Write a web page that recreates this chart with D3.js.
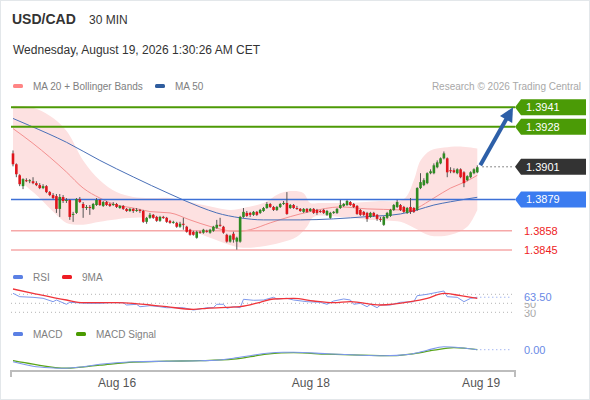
<!DOCTYPE html>
<html>
<head>
<meta charset="utf-8">
<script src="https://cdn.jsdelivr.net/npm/d3@7"></script>
<style>
  body { margin: 0; background: #fff; }
  text { font-family: "Liberation Sans", Arial, sans-serif; }
</style>
</head>
<body>
<svg id="chart" width="590" height="400"></svg>
<script>
// USD/CAD 30 min candles
var opens = [
  1.39100,1.39027,1.38953,1.38880,1.38920,1.38913,1.38913,1.38900,1.38887,1.38867,
  1.38880,1.38840,1.38820,1.38813,1.38727,1.38807,1.38780,1.38787,1.38687,1.38700,
  1.38793,1.38760,1.38733,1.38740,1.38727,1.38753,1.38787,1.38747,1.38773,1.38760,
  1.38753,1.38760,1.38733,1.38747,1.38727,1.38713,1.38727,1.38713,1.38720,1.38713,
  1.38640,1.38667,1.38687,1.38673,1.38647,1.38673,1.38667,1.38647,1.38633,1.38633,
  1.38607,1.38627,1.38607,1.38587,1.38573,1.38533,1.38573,1.38567,1.38580,1.38567,
  1.38580,1.38600,1.38620,1.38607,1.38553,1.38507,1.38560,1.38507,1.38507,1.38673,
  1.38700,1.38700,1.38687,1.38707,1.38700,1.38713,1.38733,1.38760,1.38740,1.38720,
  1.38740,1.38760,1.38767,1.38733,1.38753,1.38733,1.38727,1.38707,1.38727,1.38713,
  1.38727,1.38720,1.38713,1.38720,1.38687,1.38667,1.38700,1.38700,1.38733,1.38747,
  1.38753,1.38773,1.38760,1.38747,1.38720,1.38707,1.38700,1.38673,1.38700,1.38687,
  1.38660,1.38620,1.38667,1.38680,1.38720,1.38740,1.38753,1.38740,1.38700,1.38740,
  1.38733,1.38720,1.38867,1.38887,1.38900,1.38967,1.38967,1.39007,1.39033,1.39067,
  1.39067,1.38987,1.38987,1.38967,1.38993,1.38973,1.38920,1.38940,1.38967,1.38973
];
var highs = [
  1.39120,1.39033,1.38960,1.38933,1.38933,1.38927,1.38940,1.38913,1.38900,1.38893,
  1.38887,1.38847,1.38833,1.38827,1.38827,1.38820,1.38800,1.38793,1.38707,1.38800,
  1.38807,1.38773,1.38753,1.38753,1.38767,1.38800,1.38793,1.38780,1.38780,1.38767,
  1.38773,1.38767,1.38753,1.38753,1.38733,1.38733,1.38733,1.38733,1.38727,1.38720,
  1.38673,1.38700,1.38693,1.38680,1.38680,1.38680,1.38673,1.38653,1.38647,1.38640,
  1.38640,1.38667,1.38613,1.38593,1.38580,1.38580,1.38580,1.38593,1.38587,1.38593,
  1.38613,1.38653,1.38667,1.38613,1.38560,1.38553,1.38573,1.38540,1.38680,1.38733,
  1.38713,1.38707,1.38713,1.38713,1.38727,1.38740,1.38773,1.38767,1.38747,1.38747,
  1.38767,1.38780,1.38840,1.38760,1.38760,1.38747,1.38733,1.38733,1.38733,1.38733,
  1.38733,1.38727,1.38720,1.38727,1.38720,1.38707,1.38713,1.38733,1.38787,1.38767,
  1.38787,1.38780,1.38767,1.38753,1.38727,1.38713,1.38707,1.38707,1.38707,1.38693,
  1.38673,1.38680,1.38707,1.38727,1.38760,1.38787,1.38760,1.38747,1.38740,1.38800,
  1.38740,1.38873,1.38967,1.38933,1.38973,1.38993,1.39033,1.39053,1.39073,1.39113,
  1.39073,1.39007,1.39000,1.39000,1.39000,1.38980,1.38953,1.38980,1.39000,1.39020
];
var lows = [
  1.39013,1.38940,1.38880,1.38860,1.38907,1.38900,1.38893,1.38880,1.38860,1.38860,
  1.38833,1.38813,1.38793,1.38700,1.38673,1.38767,1.38767,1.38653,1.38640,1.38693,
  1.38767,1.38667,1.38720,1.38687,1.38720,1.38747,1.38747,1.38740,1.38747,1.38740,
  1.38747,1.38733,1.38727,1.38720,1.38707,1.38707,1.38700,1.38707,1.38700,1.38633,
  1.38627,1.38660,1.38660,1.38640,1.38640,1.38660,1.38633,1.38627,1.38627,1.38600,
  1.38600,1.38587,1.38567,1.38547,1.38547,1.38527,1.38560,1.38560,1.38567,1.38560,
  1.38573,1.38593,1.38607,1.38560,1.38500,1.38500,1.38500,1.38453,1.38500,1.38667,
  1.38673,1.38673,1.38680,1.38680,1.38693,1.38707,1.38727,1.38733,1.38713,1.38713,
  1.38733,1.38753,1.38687,1.38727,1.38727,1.38720,1.38707,1.38700,1.38700,1.38707,
  1.38693,1.38687,1.38700,1.38693,1.38680,1.38660,1.38693,1.38693,1.38727,1.38740,
  1.38747,1.38747,1.38733,1.38687,1.38680,1.38680,1.38640,1.38667,1.38673,1.38647,
  1.38640,1.38613,1.38660,1.38673,1.38713,1.38733,1.38713,1.38700,1.38693,1.38693,
  1.38700,1.38713,1.38860,1.38880,1.38893,1.38960,1.38960,1.39000,1.39027,1.39060,
  1.38940,1.38967,1.38967,1.38960,1.38933,1.38873,1.38913,1.38933,1.38960,1.38967
];
var closes = [
  1.39027,1.38960,1.38893,1.38927,1.38913,1.38920,1.38900,1.38887,1.38867,1.38880,
  1.38840,1.38820,1.38800,1.38727,1.38807,1.38780,1.38787,1.38673,1.38693,1.38793,
  1.38773,1.38733,1.38740,1.38733,1.38760,1.38787,1.38753,1.38773,1.38753,1.38747,
  1.38760,1.38740,1.38747,1.38727,1.38713,1.38727,1.38713,1.38720,1.38713,1.38640,
  1.38667,1.38687,1.38667,1.38647,1.38673,1.38667,1.38640,1.38633,1.38640,1.38607,
  1.38627,1.38620,1.38573,1.38553,1.38553,1.38573,1.38567,1.38587,1.38573,1.38587,
  1.38607,1.38620,1.38613,1.38567,1.38507,1.38547,1.38520,1.38533,1.38673,1.38707,
  1.38680,1.38687,1.38707,1.38687,1.38720,1.38733,1.38760,1.38740,1.38720,1.38740,
  1.38760,1.38767,1.38693,1.38753,1.38733,1.38727,1.38713,1.38727,1.38707,1.38727,
  1.38700,1.38700,1.38707,1.38700,1.38713,1.38700,1.38707,1.38727,1.38753,1.38760,
  1.38780,1.38753,1.38740,1.38693,1.38687,1.38687,1.38660,1.38700,1.38680,1.38660,
  1.38653,1.38673,1.38700,1.38720,1.38753,1.38773,1.38720,1.38707,1.38733,1.38707,
  1.38707,1.38867,1.38907,1.38920,1.38967,1.38980,1.39020,1.39040,1.39067,1.39100,
  1.38973,1.38980,1.38973,1.38993,1.38940,1.38900,1.38947,1.38973,1.38993,1.39007
];

// indicators sampled as [candle index, value]
var ma20 = [[0,1.39267],[6,1.39167],[11,1.39075],[16,1.38975],[21,1.38867],[26,1.38800],[31,1.38753],
  [36,1.38733],[41,1.38709],[47,1.38700],[53,1.38653],[59,1.38609],[67,1.38575],[71,1.38587],[77,1.38633],
  [83,1.38675],[89,1.38709],[98,1.38740],[106,1.38727],[116,1.38720],[119,1.38713],[121,1.38733],
  [126,1.38800],[131,1.38867],[136,1.38915],[139,1.38953]];
var ma50 = [[0,1.39335],[5,1.39287],[16,1.39175],[26,1.39053],[36,1.38942],[47,1.38827],[56,1.38740],
  [61,1.38700],[68,1.38667],[75,1.38653],[86,1.38653],[96,1.38660],[106,1.38675],[116,1.38693],
  [121,1.38720],[126,1.38753],[131,1.38775],[139,1.38805]];
var bbUpper = [[0,1.39420],[6,1.39407],[11,1.39353],[16,1.39253],[21,1.39053],[26,1.38920],[31,1.38840],
  [36,1.38807],[41,1.38800],[47,1.38800],[57,1.38753],[65,1.38720],[69,1.38733],[75,1.38767],[80,1.38833],
  [84,1.38847],[87,1.38833],[89,1.38767],[92,1.38767],[101,1.38767],[110,1.38780],[117,1.38793],
  [120,1.38920],[122,1.39053],[125,1.39120],[129,1.39140],[134,1.39147],[139,1.39133]];
var bbLower = [[0,1.39107],[2,1.38933],[8,1.38800],[13,1.38687],[16,1.38633],[21,1.38620],[26,1.38640],
  [36,1.38667],[47,1.38653],[53,1.38587],[59,1.38533],[63,1.38500],[68,1.38467],[74,1.38473],[80,1.38500],
  [85,1.38540],[88,1.38607],[90,1.38673],[98,1.38673],[107,1.38653],[116,1.38640],[120,1.38600],
  [125,1.38547],[131,1.38553],[136,1.38607],[139,1.38720]];

var rsi = [[0,72.2],[2,64.7],[6,63.3],[9,61.1],[12,53.6],[13,57.3],[16,47.8],[17,52.2],[19,51.3],[22,50],
  [26,50],[29,51.3],[33,51.3],[34,46.2],[37,47.8],[38,42.4],[41,44.7],[44,42.4],[46,40.2],[48,40.2],
  [51,40.2],[54,35.1],[56,37.3],[58,40.2],[60,40.2],[61,47.8],[63,47.8],[64,38.9],[66,42.4],[68,40.2],
  [69,58.9],[72,56.7],[75,57.3],[78,63.3],[79,59.6],[82,61.1],[84,57.3],[88,53.6],[92,52.2],[94,47.8],
  [96,55.1],[99,59.6],[101,57.3],[102,47.8],[104,50],[106,42.4],[107,47.8],[109,40.2],[110,46.2],
  [113,46.2],[116,52.2],[120,53.6],[121,66.9],[124,70],[127,74.4],[129,77.3],[130,64.7],[133,63.3],
  [135,53.6],[137,61.1],[139,63.5]];
var rsiMa = [[0,81.8],[6,72.2],[16,57.3],[21,51.3],[31,51.3],[36,50],[41,46.2],[46,42.4],[54,36.7],
  [58,38.9],[68,42.4],[74,52.2],[78,59.6],[84,61.1],[90,55.1],[96,51.3],[101,53.6],[110,46.2],
  [119,53.6],[124,61.1],[129,72.2],[134,66.9],[139,61.1]];
var rsiGrid = [70, 50, 30];
var rsiTicks = [30, 50];
var rsiLast = 63.50;

var macd = [[0,-0.00024],[6,-0.00033],[11,-0.00036],[16,-0.00037],[21,-0.00034],[26,-0.00029],
  [36,-0.00024],[46,-0.00023],[56,-0.00022],[61,-0.00021],[66,-0.00017],[71,-0.00012],[76,-0.00007],
  [81,-0.00005],[84,-0.00005],[94,-0.00008],[104,-0.00011],[111,-0.00012],[119,-0.00009],
  [124,-0.00001],[129,0.00006],[134,0.00004],[139,0.00000]];
var macdSignal = [[0,-0.00022],[6,-0.00029],[16,-0.00037],[26,-0.00031],[36,-0.00025],[46,-0.00023],
  [56,-0.00022],[66,-0.00019],[76,-0.00009],[84,-0.00006],[94,-0.00009],[104,-0.00011],[114,-0.00012],
  [119,-0.00009],[126,-0.00001],[132,0.00004],[139,0.00000]];

var resistances = [1.3941, 1.3928];
var pivot = 1.3879;
var supports = [1.3858, 1.3845];
var lastPrice = 1.3901;

var tickIdx = [31, 89, 140];
var tickLabels = ["Aug 16", "Aug 18", "Aug 19"];

var svg = d3.select("#chart");

var x = d3.scaleLinear().domain([0, closes.length - 1]).range([13, 477.3]);
var y = d3.scaleLinear().domain([1.3845, 1.3941]).range([250.1, 107.3]);
var yRsi = d3.scaleLinear().domain([30, 70]).range([312.3, 294.3]);
var yMacd = d3.scaleLinear().domain([-0.0004, 0.0001]).range([369.7, 344.7]);

// frame
svg.append("rect").attr("x", 0.5).attr("y", 0.5).attr("width", 589).attr("height", 399)
    .attr("fill", "#fff").attr("stroke", "#e3e7ea");

// header
svg.append("text").attr("x", 12).attr("y", 24).attr("font-size", 14).attr("font-weight", "bold")
    .attr("fill", "#333").text("USD/CAD");
svg.append("text").attr("x", 89).attr("y", 24).attr("font-size", 12).attr("fill", "#333").text("30 MIN");
svg.append("text").attr("x", 13).attr("y", 54).attr("font-size", 12).attr("fill", "#333")
    .text("Wednesday, August 19, 2026 1:30:26 AM CET");

function legend(items, yy) {
  items.forEach(function(it) {
    svg.append("rect").attr("x", it.x).attr("y", yy - 5.5).attr("width", 10).attr("height", 4)
        .attr("rx", 1.5).attr("fill", it.c);
    svg.append("text").attr("x", it.x + 20).attr("y", yy).attr("font-size", 10).attr("fill", "#808080")
        .text(it.t);
  });
}
legend([{x: 13, c: "#ff8585", t: "MA 20 + Bollinger Bands"}, {x: 155, c: "#2f5d9e", t: "MA 50"}], 89.5);
svg.append("text").attr("x", 581).attr("y", 89.5).attr("font-size", 10).attr("fill", "#a8a8a8")
    .attr("text-anchor", "end").text("Research \u00a9 2026 Trading Central");

// bollinger band: upper edge left to right, lower edge back
var bandEdge = d3.line().x(function(d) { return x(d[0]); }).y(function(d) { return y(d[1]); })
    .curve(d3.curveCatmullRom.alpha(0.5));
var bandD = bandEdge(bbUpper) + "L" + bandEdge(bbLower.slice().reverse()).slice(1) + "Z";
svg.append("path").attr("d", bandD).attr("fill", "#fde1e1").attr("stroke", "none");

var smooth = d3.line().x(function(d) { return x(d[0]); }).y(function(d) { return y(d[1]); })
    .curve(d3.curveMonotoneX);
svg.append("path").attr("d", smooth(ma20)).attr("fill", "none").attr("stroke", "#f49090").attr("stroke-width", 1);
svg.append("path").attr("d", smooth(ma50)).attr("fill", "none").attr("stroke", "#4a70b8").attr("stroke-width", 1);

// level lines
resistances.forEach(function(v) {
  svg.append("line").attr("x1", 11).attr("x2", 515).attr("y1", y(v)).attr("y2", y(v))
      .attr("stroke", "#4d9a06").attr("stroke-width", 2);
});
svg.append("line").attr("x1", 11).attr("x2", 515).attr("y1", y(pivot)).attr("y2", y(pivot))
    .attr("stroke", "#3d70d6").attr("stroke-width", 1.5);
supports.forEach(function(v) {
  svg.append("line").attr("x1", 11).attr("x2", 512).attr("y1", y(v)).attr("y2", y(v))
      .attr("stroke", "#f6a8a8").attr("stroke-width", 1.5);
});
var lastX = x(closes.length - 1);
svg.append("line").attr("x1", lastX + 5).attr("x2", 512).attr("y1", y(lastPrice)).attr("y2", y(lastPrice))
    .attr("stroke", "#666").attr("stroke-width", 1).attr("stroke-dasharray", "1.5,2.5");

// candles
var candles = svg.append("g");
closes.forEach(function(c, i) {
  var o = opens[i], up = c >= o;
  candles.append("line").attr("x1", x(i)).attr("x2", x(i)).attr("y1", y(highs[i])).attr("y2", y(lows[i]))
      .attr("stroke", "#555").attr("stroke-width", 1);
  var top = y(Math.max(o, c)), h = Math.max(1, Math.abs(y(o) - y(c)));
  candles.append("rect").attr("x", x(i) - 1.3).attr("y", top).attr("width", 2.6).attr("height", h)
      .attr("fill", up ? "#2e8a22" : "#e0151c");
});

// forecast arrow
(function() {
  var x0 = lastX + 3, y0 = y(closes[closes.length - 1]) - 2, x1 = 513, y1 = y(resistances[0]);
  var dx = x1 - x0, dy = y1 - y0, len = Math.sqrt(dx * dx + dy * dy), ux = dx / len, uy = dy / len;
  var hl = 14, hw = 7, bx = x1 - ux * hl, by = y1 - uy * hl;
  svg.append("line").attr("x1", x0).attr("y1", y0).attr("x2", bx + ux * 2).attr("y2", by + uy * 2)
      .attr("stroke", "#2d5fa8").attr("stroke-width", 4);
  svg.append("path").attr("fill", "#2d5fa8")
      .attr("d", "M" + x1 + "," + y1 + "L" + (bx - uy * hw) + "," + (by + ux * hw) + "L" + (bx + uy * hw) + "," + (by - ux * hw) + "Z");
})();

// level labels
function tagBox(v, fill) {
  var yc = y(v);
  svg.append("path").attr("fill", fill)
      .attr("d", "M515," + yc + "L521," + (yc - 8) + "H586V" + (yc + 8) + "H521Z");
  svg.append("text").attr("x", 526).attr("y", yc).attr("dy", "0.36em").attr("font-size", 11)
      .attr("fill", "#fff").text(d3.format(".4f")(v));
}
resistances.forEach(function(v) { tagBox(v, "#4b9b06"); });
tagBox(lastPrice, "#333333");
tagBox(pivot, "#3b7cf0");
supports.forEach(function(v) {
  svg.append("text").attr("x", 524).attr("y", y(v)).attr("dy", "0.36em").attr("font-size", 11)
      .attr("fill", "#ee1c24").text(d3.format(".4f")(v));
});

// RSI panel
legend([{x: 13, c: "#5b80e4", t: "RSI"}, {x: 62, c: "#ee1c24", t: "9MA"}], 280.5);
rsiGrid.forEach(function(v) {
  svg.append("line").attr("x1", 11).attr("x2", 512).attr("y1", yRsi(v)).attr("y2", yRsi(v))
      .attr("stroke", "#b5b5b5").attr("stroke-width", 1).attr("stroke-dasharray", "1,3");
});
var rsiLine = d3.line().x(function(d) { return x(d[0]); }).y(function(d) { return yRsi(d[1]); });
svg.append("path").attr("d", rsiLine(rsi)).attr("fill", "none").attr("stroke", "#7d98ec").attr("stroke-width", 1);
svg.append("path").attr("d", rsiLine.curve(d3.curveMonotoneX)(rsiMa)).attr("fill", "none")
    .attr("stroke", "#f0343a").attr("stroke-width", 1.3);
svg.append("line").attr("x1", lastX + 3).attr("x2", 512).attr("y1", yRsi(rsiLast)).attr("y2", yRsi(rsiLast))
    .attr("stroke", "#7d98ec").attr("stroke-width", 1).attr("stroke-dasharray", "1,3");

// side value labels sit on white plates, later ones hide earlier ones as in the source chart
function sideLabel(yy, txt, col) {
  svg.append("rect").attr("x", 520).attr("y", yy - 5.5).attr("width", 40).attr("height", 11).attr("fill", "#fff");
  svg.append("text").attr("x", 524).attr("y", yy).attr("dy", "0.36em").attr("font-size", 11)
      .attr("fill", col).text(txt);
}
rsiTicks.forEach(function(v) { sideLabel(yRsi(v) + 1, String(v), "#a9a9a9"); });
sideLabel(yRsi(rsiLast), d3.format(".2f")(rsiLast), "#6a8ae6");

// MACD panel
legend([{x: 13, c: "#5b80e4", t: "MACD"}, {x: 76, c: "#4a9a00", t: "MACD Signal"}], 337.5);
var macdLine = d3.line().x(function(d) { return x(d[0]); }).y(function(d) { return yMacd(d[1]); })
    .curve(d3.curveMonotoneX);
svg.append("path").attr("d", macdLine(macdSignal)).attr("fill", "none").attr("stroke", "#5aa51a").attr("stroke-width", 1.3);
svg.append("path").attr("d", macdLine(macd)).attr("fill", "none").attr("stroke", "#7d98ec").attr("stroke-width", 1.1);
var macdLast = macd[macd.length - 1][1];
svg.append("line").attr("x1", lastX + 3).attr("x2", 512).attr("y1", yMacd(macdLast)).attr("y2", yMacd(macdLast))
    .attr("stroke", "#7d98ec").attr("stroke-width", 1).attr("stroke-dasharray", "1,3");
sideLabel(yMacd(macdLast), d3.format(".2f")(Math.abs(macdLast)), "#6a8ae6");

// time axis
var axisG = svg.append("g").attr("transform", "translate(0,371)");
axisG.append("path").attr("d", "M11,6V0H515V6")
    .attr("fill", "none").attr("stroke", "#bdbdbd").attr("stroke-width", 2);
var xAxis = d3.axisBottom(x).tickValues(tickIdx).tickFormat(function(d, i) { return tickLabels[i]; })
    .tickSize(0).tickPadding(7.5);
axisG.call(xAxis);
axisG.select(".domain").remove();
axisG.selectAll(".tick text").attr("font-size", 12).attr("fill", "#555")
    .attr("font-family", "Liberation Sans, Arial, sans-serif");
</script>
</body>
</html>
